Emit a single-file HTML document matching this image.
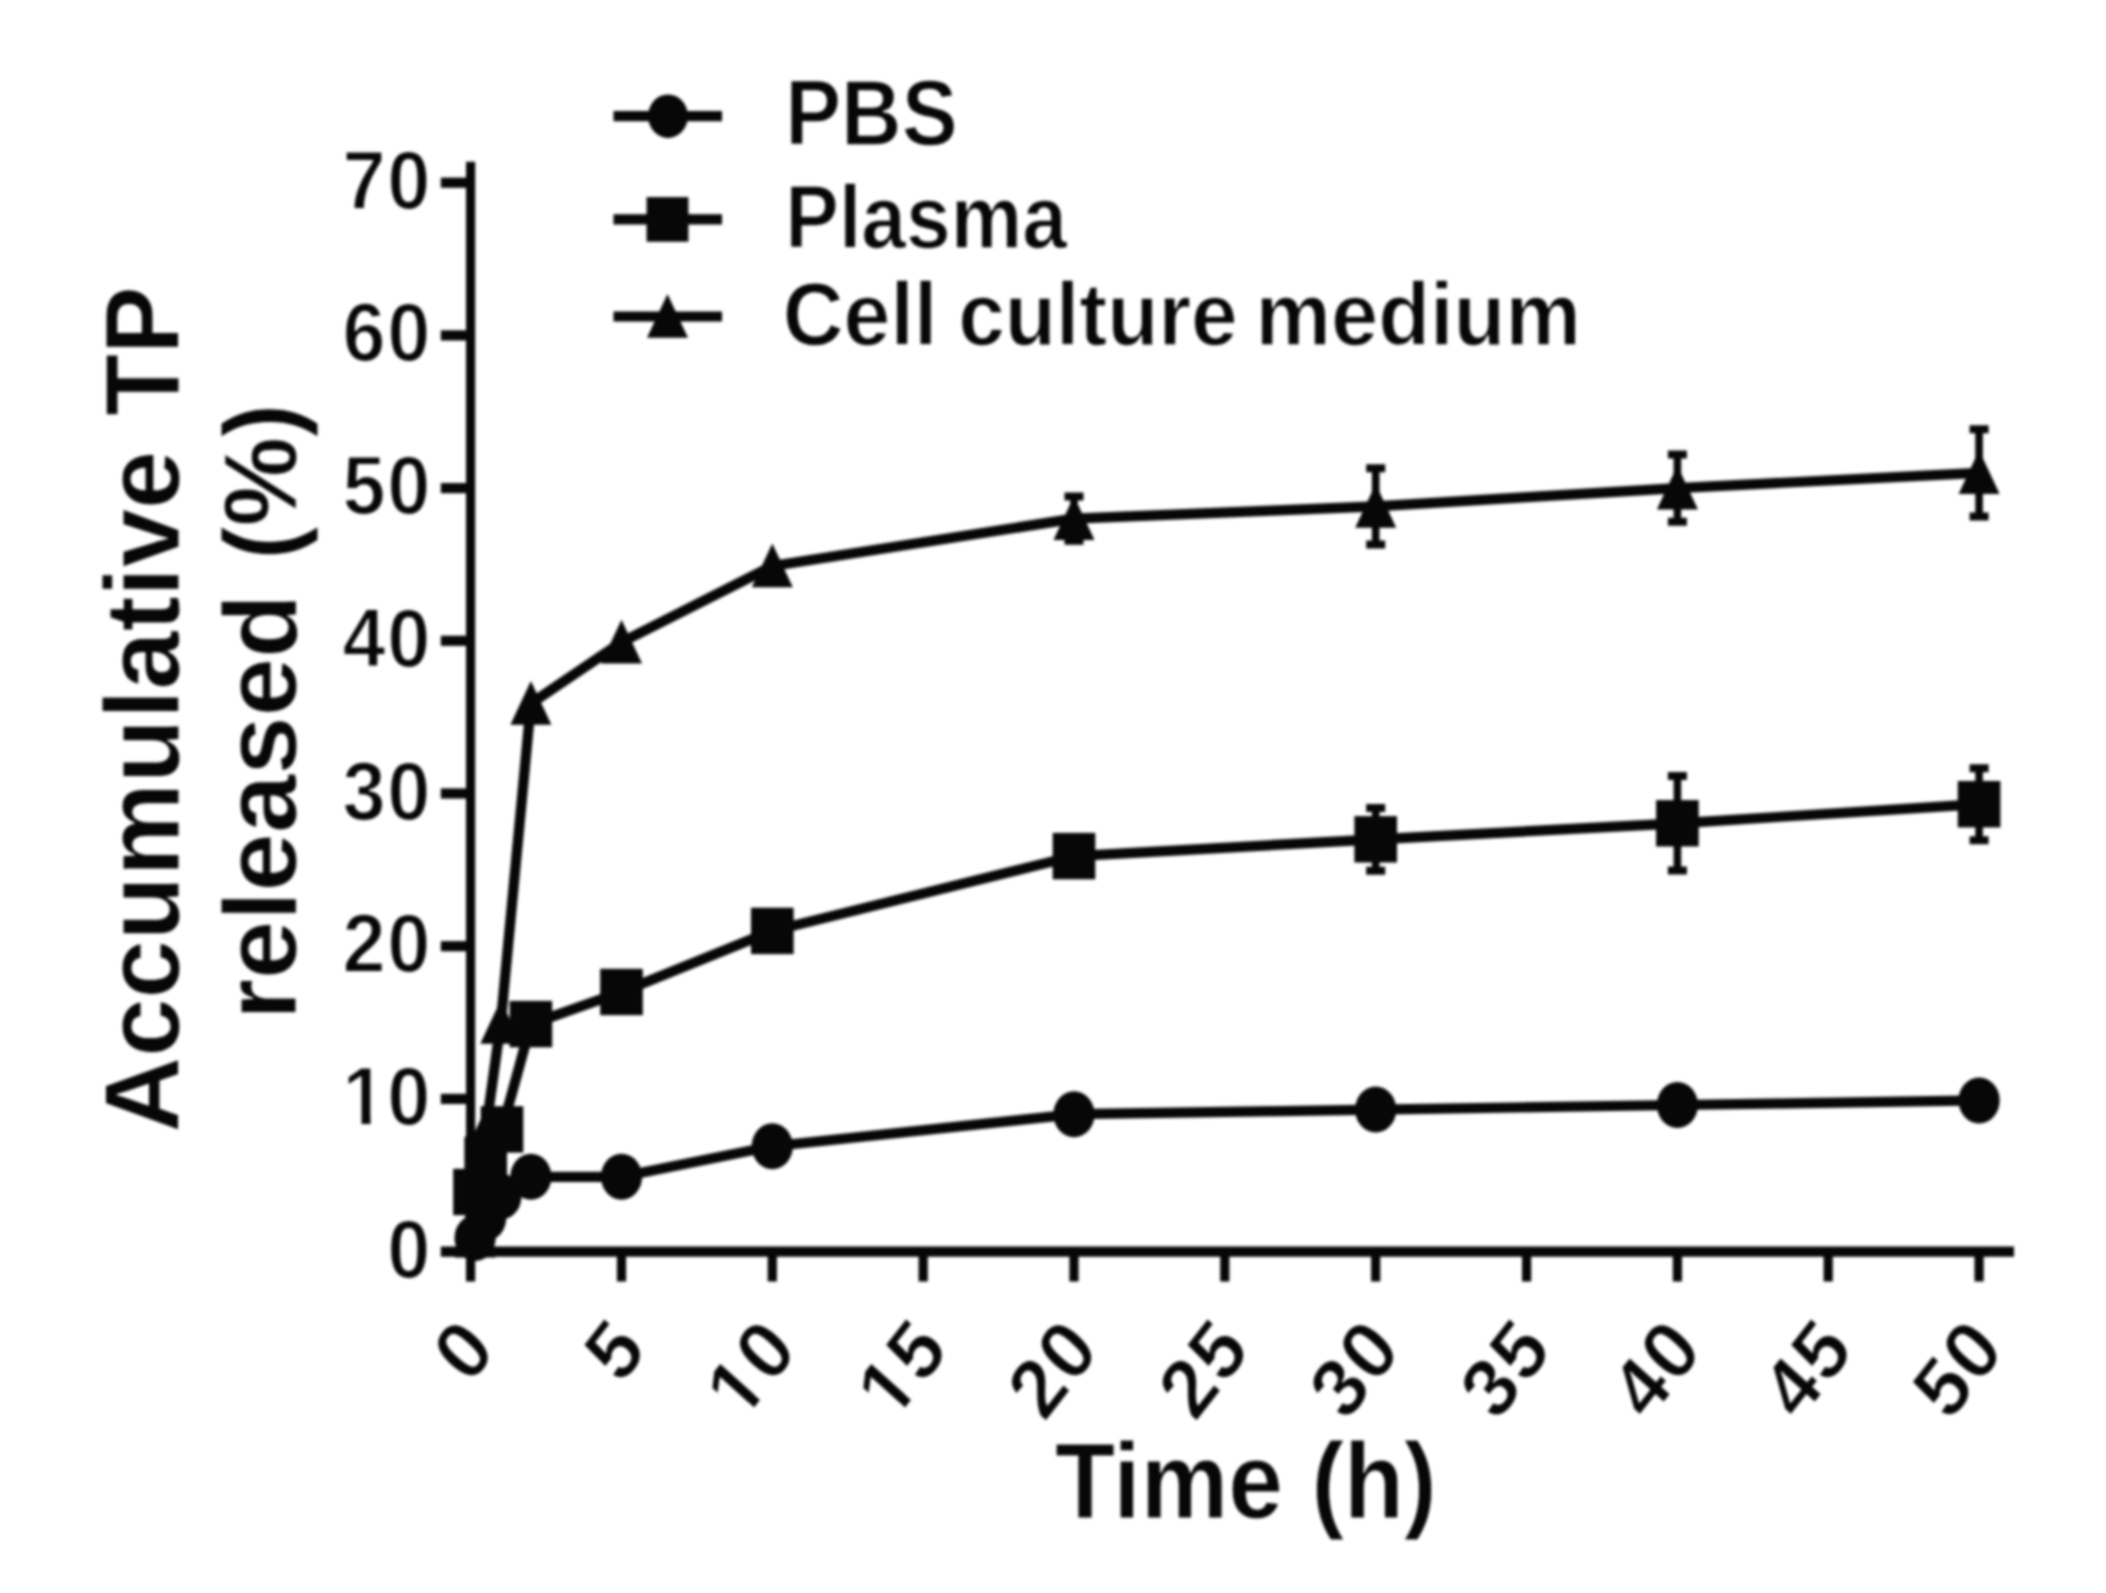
<!DOCTYPE html>
<html lang="en"><head><meta charset="utf-8"><title>Accumulative TP released</title>
<style>html,body{margin:0;padding:0;background:#fff;}body{width:2106px;height:1593px;overflow:hidden;}svg{display:block;filter:blur(1.6px);}text{font-family:"Liberation Sans",sans-serif;font-weight:bold;fill:#060706;}</style>
</head><body>
<svg width="2106" height="1593" viewBox="0 0 2106 1593">
<rect width="2106" height="1593" fill="#fff"/>
<g stroke="#060706" fill="none" stroke-linecap="butt">
<line x1="470.6" y1="161.8" x2="470.6" y2="1256.7" stroke-width="9.2"/>
<line x1="440.8" y1="1251.6" x2="2014" y2="1251.6" stroke-width="10.2"/>
<line x1="440.8" y1="1098.9" x2="470.6" y2="1098.9" stroke-width="10.2"/>
<line x1="440.8" y1="946.2" x2="470.6" y2="946.2" stroke-width="10.2"/>
<line x1="440.8" y1="793.5" x2="470.6" y2="793.5" stroke-width="10.2"/>
<line x1="440.8" y1="640.8" x2="470.6" y2="640.8" stroke-width="10.2"/>
<line x1="440.8" y1="488.1" x2="470.6" y2="488.1" stroke-width="10.2"/>
<line x1="440.8" y1="335.4" x2="470.6" y2="335.4" stroke-width="10.2"/>
<line x1="440.8" y1="182.7" x2="470.6" y2="182.7" stroke-width="10.2"/>
<line x1="470.6" y1="1251.6" x2="470.6" y2="1281.5" stroke-width="9.2"/>
<line x1="621.5" y1="1251.6" x2="621.5" y2="1281.5" stroke-width="9.2"/>
<line x1="772.3" y1="1251.6" x2="772.3" y2="1281.5" stroke-width="9.2"/>
<line x1="923.2" y1="1251.6" x2="923.2" y2="1281.5" stroke-width="9.2"/>
<line x1="1074.0" y1="1251.6" x2="1074.0" y2="1281.5" stroke-width="9.2"/>
<line x1="1224.8" y1="1251.6" x2="1224.8" y2="1281.5" stroke-width="9.2"/>
<line x1="1375.7" y1="1251.6" x2="1375.7" y2="1281.5" stroke-width="9.2"/>
<line x1="1526.6" y1="1251.6" x2="1526.6" y2="1281.5" stroke-width="9.2"/>
<line x1="1677.4" y1="1251.6" x2="1677.4" y2="1281.5" stroke-width="9.2"/>
<line x1="1828.2" y1="1251.6" x2="1828.2" y2="1281.5" stroke-width="9.2"/>
<line x1="1979.1" y1="1251.6" x2="1979.1" y2="1281.5" stroke-width="9.2"/>
</g>
<defs><clipPath id="c1"><path d="M-5 -80H200V30H55V-11.2H36.0V3H24.4V-11.2H-5Z"/></clipPath></defs>
<g transform="translate(430.3 1277.6) scale(0.7750 0.8293) translate(-55.60 0)"><text font-size="100" stroke="#fff" stroke-width="2.25" stroke-linejoin="round">0</text></g>
<g transform="translate(430.3 1124.9) scale(0.7750 0.8293) translate(-113.14 0)"><text font-size="100" stroke="#fff" stroke-width="2.25" stroke-linejoin="round" letter-spacing="1.94" clip-path="url(#c1)">10</text></g>
<g transform="translate(430.3 972.2) scale(0.7750 0.8293) translate(-113.14 0)"><text font-size="100" stroke="#fff" stroke-width="2.25" stroke-linejoin="round" letter-spacing="1.94">20</text></g>
<g transform="translate(430.3 819.5) scale(0.7750 0.8293) translate(-113.14 0)"><text font-size="100" stroke="#fff" stroke-width="2.25" stroke-linejoin="round" letter-spacing="1.94">30</text></g>
<g transform="translate(430.3 666.8) scale(0.7750 0.8293) translate(-113.14 0)"><text font-size="100" stroke="#fff" stroke-width="2.25" stroke-linejoin="round" letter-spacing="1.94">40</text></g>
<g transform="translate(430.3 514.1) scale(0.7750 0.8293) translate(-113.14 0)"><text font-size="100" stroke="#fff" stroke-width="2.25" stroke-linejoin="round" letter-spacing="1.94">50</text></g>
<g transform="translate(430.3 361.4) scale(0.7750 0.8293) translate(-113.14 0)"><text font-size="100" stroke="#fff" stroke-width="2.25" stroke-linejoin="round" letter-spacing="1.94">60</text></g>
<g transform="translate(430.3 208.7) scale(0.7750 0.8293) translate(-113.14 0)"><text font-size="100" stroke="#fff" stroke-width="2.25" stroke-linejoin="round" letter-spacing="1.94">70</text></g>
<g transform="translate(497.5 1351.0) scale(1 1.070) rotate(-50) scale(0.7750 0.7750) translate(-55.60 0)"><text font-size="100" stroke="#fff" stroke-width="1.55" stroke-linejoin="round">0</text></g>
<g transform="translate(648.4 1351.0) scale(1 1.070) rotate(-50) scale(0.7750 0.7750) translate(-55.60 0)"><text font-size="100" stroke="#fff" stroke-width="1.55" stroke-linejoin="round">5</text></g>
<g transform="translate(799.2 1351.0) scale(1 1.070) rotate(-50) scale(0.7750 0.7750) translate(-113.78 0)"><text font-size="100" stroke="#fff" stroke-width="1.55" stroke-linejoin="round" letter-spacing="2.58" clip-path="url(#c1)">10</text></g>
<g transform="translate(950.1 1351.0) scale(1 1.070) rotate(-50) scale(0.7750 0.7750) translate(-113.78 0)"><text font-size="100" stroke="#fff" stroke-width="1.55" stroke-linejoin="round" letter-spacing="2.58" clip-path="url(#c1)">15</text></g>
<g transform="translate(1100.9 1351.0) scale(1 1.070) rotate(-50) scale(0.7750 0.7750) translate(-113.78 0)"><text font-size="100" stroke="#fff" stroke-width="1.55" stroke-linejoin="round" letter-spacing="2.58">20</text></g>
<g transform="translate(1251.8 1351.0) scale(1 1.070) rotate(-50) scale(0.7750 0.7750) translate(-113.78 0)"><text font-size="100" stroke="#fff" stroke-width="1.55" stroke-linejoin="round" letter-spacing="2.58">25</text></g>
<g transform="translate(1402.6 1351.0) scale(1 1.070) rotate(-50) scale(0.7750 0.7750) translate(-113.78 0)"><text font-size="100" stroke="#fff" stroke-width="1.55" stroke-linejoin="round" letter-spacing="2.58">30</text></g>
<g transform="translate(1553.5 1351.0) scale(1 1.070) rotate(-50) scale(0.7750 0.7750) translate(-113.78 0)"><text font-size="100" stroke="#fff" stroke-width="1.55" stroke-linejoin="round" letter-spacing="2.58">35</text></g>
<g transform="translate(1704.3 1351.0) scale(1 1.070) rotate(-50) scale(0.7750 0.7750) translate(-113.78 0)"><text font-size="100" stroke="#fff" stroke-width="1.55" stroke-linejoin="round" letter-spacing="2.58">40</text></g>
<g transform="translate(1855.2 1351.0) scale(1 1.070) rotate(-50) scale(0.7750 0.7750) translate(-113.78 0)"><text font-size="100" stroke="#fff" stroke-width="1.55" stroke-linejoin="round" letter-spacing="2.58">45</text></g>
<g transform="translate(2006.0 1351.0) scale(1 1.070) rotate(-50) scale(0.7750 0.7750) translate(-113.78 0)"><text font-size="100" stroke="#fff" stroke-width="1.55" stroke-linejoin="round" letter-spacing="2.58">50</text></g>
<text transform="translate(1055.02 1518.00) scale(0.9826 1.0750)" font-size="100" stroke="#fff" stroke-width="0.97" stroke-linejoin="round"><tspan x="0.00" textLength="231.90" lengthAdjust="spacingAndGlyphs">Time</tspan> <tspan x="260.92" textLength="127.35" lengthAdjust="spacingAndGlyphs">(h)</tspan></text>
<text transform="translate(178.90 1132.62) rotate(-90) scale(1.0437 1.0550)" font-size="100" stroke="#fff" stroke-width="0.95" stroke-linejoin="round"><tspan x="0.00" textLength="653.46" lengthAdjust="spacingAndGlyphs">Accumulative</tspan> <tspan x="686.69" textLength="124.37" lengthAdjust="spacingAndGlyphs">TP</tspan></text>
<text transform="translate(296.40 1019.72) rotate(-90) scale(1.0371 1.0350)" font-size="100" stroke="#fff" stroke-width="0.97" stroke-linejoin="round"><tspan x="0.00" textLength="410.62" lengthAdjust="spacingAndGlyphs">released</tspan> <tspan x="443.55" textLength="150.37" lengthAdjust="spacingAndGlyphs">(%)</tspan></text>
<polyline points="475.1,1237.9 485.7,1218.0 500.8,1196.6 530.9,1176.8 621.5,1176.8 772.3,1146.2 1074.0,1114.2 1375.7,1109.6 1677.4,1105.0 1979.1,1100.4" fill="none" stroke="#060706" stroke-width="10.2" stroke-linejoin="round"/>
<g fill="#060706">
<ellipse cx="475.1" cy="1237.9" rx="20.6" ry="23.0"/>
<ellipse cx="485.7" cy="1218.0" rx="20.6" ry="23.0"/>
<ellipse cx="500.8" cy="1196.6" rx="20.6" ry="23.0"/>
<ellipse cx="530.9" cy="1176.8" rx="20.6" ry="23.0"/>
<ellipse cx="621.5" cy="1176.8" rx="20.6" ry="23.0"/>
<ellipse cx="772.3" cy="1146.2" rx="20.6" ry="23.0"/>
<ellipse cx="1074.0" cy="1114.2" rx="20.6" ry="23.0"/>
<ellipse cx="1375.7" cy="1109.6" rx="20.6" ry="23.0"/>
<ellipse cx="1677.4" cy="1105.0" rx="20.6" ry="23.0"/>
<ellipse cx="1979.1" cy="1100.4" rx="20.6" ry="23.0"/>
</g>
<polyline points="474.5,1192.0 485.7,1160.0 502.0,1129.4 530.9,1024.1 621.5,992.0 772.3,930.9 1074.0,856.1 1375.7,839.3 1677.4,823.3 1979.1,804.2" fill="none" stroke="#060706" stroke-width="10.2" stroke-linejoin="round"/>
<path d="M1375.7 807.9V870.8" stroke="#060706" stroke-width="7.6" fill="none"/>
<path d="M1366.2 807.9h19M1366.2 870.8h19" stroke="#060706" stroke-width="8" fill="none"/>
<path d="M1677.4 775.9V870.6" stroke="#060706" stroke-width="7.6" fill="none"/>
<path d="M1667.9 775.9h19M1667.9 870.6h19" stroke="#060706" stroke-width="8" fill="none"/>
<path d="M1979.1 768.2V840.2" stroke="#060706" stroke-width="7.6" fill="none"/>
<path d="M1969.6 768.2h19M1969.6 840.2h19" stroke="#060706" stroke-width="8" fill="none"/>
<g fill="#060706">
<rect x="453.2" y="1168.8" width="42.6" height="46.4"/>
<rect x="464.4" y="1136.8" width="42.6" height="46.4"/>
<rect x="480.7" y="1106.2" width="42.6" height="46.4"/>
<rect x="509.6" y="1000.9" width="42.6" height="46.4"/>
<rect x="600.2" y="968.8" width="42.6" height="46.4"/>
<rect x="751.0" y="907.7" width="42.6" height="46.4"/>
<rect x="1052.7" y="832.9" width="42.6" height="46.4"/>
<rect x="1354.4" y="816.1" width="42.6" height="46.4"/>
<rect x="1656.1" y="800.1" width="42.6" height="46.4"/>
<rect x="1957.8" y="781.0" width="42.6" height="46.4"/>
</g>
<polyline points="475.1,1236.3 485.7,1131.0 500.8,1022.5 530.9,703.4 621.5,642.3 772.3,566.0 1074.0,518.6 1375.7,506.4 1677.4,488.1 1979.1,472.8" fill="none" stroke="#060706" stroke-width="10.2" stroke-linejoin="round"/>
<path d="M1074.0 496.5V540.8" stroke="#060706" stroke-width="7.6" fill="none"/>
<path d="M1064.5 496.5h19M1064.5 540.8h19" stroke="#060706" stroke-width="8" fill="none"/>
<path d="M1375.7 468.2V544.6" stroke="#060706" stroke-width="7.6" fill="none"/>
<path d="M1366.2 468.2h19M1366.2 544.6h19" stroke="#060706" stroke-width="8" fill="none"/>
<path d="M1677.4 454.5V521.7" stroke="#060706" stroke-width="7.6" fill="none"/>
<path d="M1667.9 454.5h19M1667.9 521.7h19" stroke="#060706" stroke-width="8" fill="none"/>
<path d="M1979.1 429.2V516.5" stroke="#060706" stroke-width="7.6" fill="none"/>
<path d="M1969.6 429.2h19M1969.6 516.5h19" stroke="#060706" stroke-width="8" fill="none"/>
<g fill="#060706">
<path d="M475.1 1213.8L495.6 1257.6L454.6 1257.6Z"/>
<path d="M485.7 1108.5L506.2 1152.3L465.2 1152.3Z"/>
<path d="M500.8 1000.0L521.3 1043.8L480.3 1043.8Z"/>
<path d="M530.9 680.9L551.4 724.7L510.4 724.7Z"/>
<path d="M621.5 619.8L642.0 663.6L601.0 663.6Z"/>
<path d="M772.3 543.5L792.8 587.3L751.8 587.3Z"/>
<path d="M1074.0 496.1L1094.5 539.9L1053.5 539.9Z"/>
<path d="M1375.7 483.9L1396.2 527.7L1355.2 527.7Z"/>
<path d="M1677.4 465.6L1697.9 509.4L1656.9 509.4Z"/>
<path d="M1979.1 450.3L1999.6 494.1L1958.6 494.1Z"/>
</g>
<line x1="613.5" y1="116.2" x2="722" y2="116.2" stroke="#060706" stroke-width="10.2"/>
<g fill="#060706">
<ellipse cx="668.0" cy="116.2" rx="19.9" ry="21.8"/>
</g>
<line x1="613.5" y1="219.4" x2="722" y2="219.4" stroke="#060706" stroke-width="10.2"/>
<g fill="#060706">
<rect x="646.6" y="197.1" width="41.8" height="44.6"/>
</g>
<line x1="613.5" y1="316.5" x2="722" y2="316.5" stroke="#060706" stroke-width="10.2"/>
<g fill="#060706">
<path d="M667.5 294.0L688.0 337.8L647.0 337.8Z"/>
</g>
<text transform="translate(785.14 145.00) scale(0.8390 0.9300)" font-size="100" stroke="#fff" stroke-width="1.58" stroke-linejoin="round"><tspan x="0.00" textLength="205.62" lengthAdjust="spacingAndGlyphs">PBS</tspan></text>
<text transform="translate(785.37 247.70) scale(0.8041 0.8850)" font-size="100" stroke="#fff" stroke-width="1.66" stroke-linejoin="round"><tspan x="0.00" textLength="350.25" lengthAdjust="spacingAndGlyphs">Plasma</tspan></text>
<text transform="translate(782.73 345.20) scale(0.8438 0.8850)" font-size="100" stroke="#fff" stroke-width="1.62" stroke-linejoin="round"><tspan x="0.00" textLength="183.23" lengthAdjust="spacingAndGlyphs">Cell</tspan> <tspan x="207.90" textLength="331.26" lengthAdjust="spacingAndGlyphs">culture</tspan> <tspan x="560.30" textLength="385.70" lengthAdjust="spacingAndGlyphs">medium</tspan></text>
</svg></body></html>
